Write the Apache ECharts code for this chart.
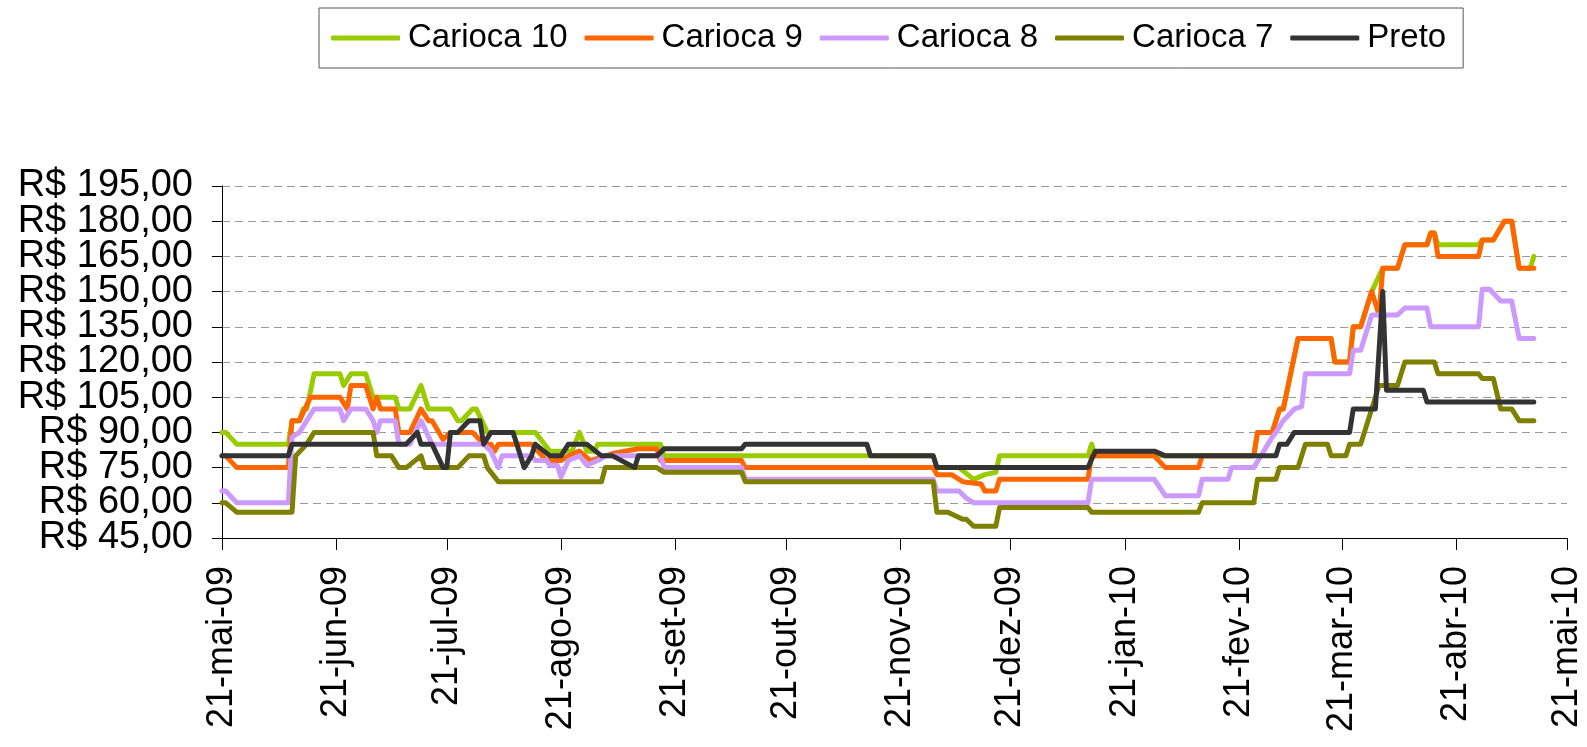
<!DOCTYPE html>
<html>
<head>
<meta charset="utf-8">
<script src="https://cdn.jsdelivr.net/npm/echarts@6/dist/echarts.min.js"></script>
<style>
  html, body { margin: 0; padding: 0; background: #fff; }
  #chart { width: 1587px; height: 747px; }
</style>
</head>
<body>
<div id="chart"></div>
<script>
// x = days since 21/05/2009, y = preço da saca (R$)
const tickDays = [0, 31, 61, 92, 123, 153, 184, 214, 245, 276, 304, 335, 365];
const tickLabels = ["21-mai-09", "21-jun-09", "21-jul-09", "21-ago-09", "21-set-09", "21-out-09",
  "21-nov-09", "21-dez-09", "21-jan-10", "21-fev-10", "21-mar-10", "21-abr-10", "21-mai-10"];
// price ticks, split over two label rows so the large labels are not dropped as overlapping
const priceTicksA = [45, 75, 105, 135, 165, 195];
const priceTicksB = [60, 90, 120, 150, 180];

const carioca10 = [[0, 90], [1, 90], [4, 85], [18, 85], [19, 95], [21, 95], [22, 100], [23, 100], [25, 115],
  [32, 115], [33, 110], [35, 115], [39, 115], [41, 105], [47, 105], [48, 100], [51, 100], [54, 110], [56, 100],
  [62, 100], [64, 95], [65, 95], [68, 100], [69, 100], [72, 90], [85, 90], [89, 82], [95, 82], [97, 90], [99, 82],
  [101, 82], [102, 85], [119, 85], [120, 80], [193, 80], [194, 75], [200, 75], [204, 70], [207, 72], [210, 73],
  [211, 80], [235, 80], [236, 85], [237, 80], [280, 80], [281, 90], [285, 90], [287, 100], [288, 100], [292, 130],
  [301, 130], [302, 120], [306, 120], [307, 135], [309, 135], [312, 150], [315, 160], [319, 160], [321, 170],
  [327, 170], [328, 175], [329, 175], [330, 170], [341, 170], [342, 172], [345, 172], [348, 180], [350, 180],
  [352, 160], [355, 160], [356, 165]];

const carioca9 = [[0, 80], [1, 80], [4, 75], [18, 75], [19, 95], [21, 95], [24, 105], [32, 105], [34, 100],
  [35, 110], [39, 110], [41, 100], [42, 105], [43, 100], [47, 100], [48, 90], [51, 90], [54, 100], [56, 95],
  [57, 95], [60, 87], [62, 90], [68, 90], [71, 85], [73, 85], [74, 82], [75, 85], [84, 85], [88, 78], [92, 78],
  [94, 80], [97, 82], [100, 78], [106, 81], [113, 83], [118, 83], [119, 78], [141, 78], [142, 75], [193, 75],
  [194, 72], [198, 72], [201, 69], [206, 68], [207, 65], [210, 65], [211, 70], [235, 70], [236, 80], [253, 80],
  [256, 75], [265, 75], [266, 80], [280, 80], [281, 90], [285, 90], [287, 100], [288, 100], [292, 130], [301, 130],
  [302, 120], [306, 120], [307, 135], [309, 135], [312, 150], [314, 140], [315, 160], [319, 160], [321, 170],
  [327, 170], [328, 175], [329, 175], [330, 165], [341, 165], [342, 172], [345, 172], [348, 180], [350, 180],
  [352, 160], [356, 160]];

const carioca8 = [[0, 65], [1, 65], [4, 60], [18, 60], [19, 88], [21, 90], [25, 100], [32, 100], [33, 95],
  [35, 100], [39, 100], [41, 95], [42, 90], [43, 95], [47, 95], [48, 85], [51, 85], [54, 95], [57, 85], [71, 85],
  [73, 82], [75, 75], [76, 80], [84, 80], [85, 78], [88, 78], [89, 76], [91, 76], [92, 71], [94, 78], [97, 80],
  [99, 76], [102, 78], [104, 80], [119, 80], [120, 75], [141, 75], [142, 70], [193, 70], [194, 65], [200, 65],
  [202, 62], [204, 60], [235, 60], [236, 70], [253, 70], [256, 63], [265, 63], [266, 70], [273, 70], [274, 75],
  [280, 75], [285, 88], [286, 90], [288, 95], [291, 100], [293, 101], [294, 115], [306, 115], [307, 125],
  [309, 125], [312, 140], [319, 140], [321, 143], [327, 143], [328, 135], [341, 135], [342, 151], [344, 151],
  [347, 146], [350, 146], [352, 130], [356, 130]];

const carioca7 = [[0, 60], [1, 60], [4, 56], [19, 56], [20, 80], [23, 85], [25, 90], [41, 90], [42, 80], [46, 80],
  [48, 75], [50, 75], [54, 80], [55, 75], [64, 75], [67, 80], [71, 80], [72, 75], [75, 69], [103, 69], [104, 75],
  [118, 75], [120, 73], [141, 73], [142, 69], [193, 69], [194, 56], [197, 56], [201, 53], [202, 53], [204, 50],
  [210, 50], [211, 58], [235, 58], [236, 56], [265, 56], [266, 60], [280, 60], [281, 70], [286, 70], [287, 75],
  [292, 75], [294, 85], [300, 85], [301, 80], [305, 80], [306, 85], [309, 85], [314, 110], [319, 110], [321, 120],
  [329, 120], [330, 115], [341, 115], [342, 113], [345, 113], [347, 100], [350, 100], [352, 95], [356, 95]];

const preto = [[0, 80], [18, 80], [19, 85], [50, 85], [53, 90], [54, 85], [57, 85], [60, 75], [61, 75], [62, 90],
  [64, 90], [67, 95], [70, 95], [71, 85], [73, 90], [79, 90], [82, 75], [84, 80], [85, 85], [89, 80], [92, 80],
  [94, 85], [99, 85], [103, 80], [106, 80], [112, 75], [113, 80], [118, 80], [120, 83], [141, 83], [142, 85],
  [175, 85], [176, 80], [193, 80], [194, 75], [235, 75], [237, 82], [253, 82], [256, 80], [286, 80], [287, 85],
  [289, 85], [291, 90], [306, 90], [307, 100], [313, 100], [315, 150], [316, 108], [326, 108], [327, 103],
  [356, 103]];

const FONT = "'Liberation Sans', Arial, sans-serif";
const SERIES = [
  { name: "Carioca 10", data: carioca10, color: "#99cc00" },
  { name: "Carioca 9", data: carioca9, color: "#ff6600" },
  { name: "Carioca 8", data: carioca8, color: "#cc99ff" },
  { name: "Carioca 7", data: carioca7, color: "#808000" },
  { name: "Preto", data: preto, color: "#333333" },
];

function formatReal(value) {
  return "R$ " + value.toFixed(2).replace(".", ",");
}

function priceLabels(values) {
  return {
    customValues: values,
    margin: 29,
    fontFamily: FONT,
    fontSize: 38,
    color: "#000",
    formatter: formatReal,
  };
}

const chart = echarts.init(document.getElementById("chart"));
chart.setOption({
  animation: false,
  backgroundColor: "#fff",
  legend: {
    left: 319,
    top: 8,
    padding: [10, 17, 10, 12],
    borderColor: "#555",
    borderWidth: 1,
    icon: "roundRect",
    itemWidth: 69,
    itemHeight: 5,
    itemGap: 17,
    textStyle: { fontFamily: FONT, fontSize: 33, color: "#000", lineHeight: 40, padding: [0, 0, 0, 3] },
  },
  grid: { left: 222, right: 20, top: 186, bottom: 209, containLabel: false, outerBoundsMode: "none" },
  xAxis: {
    type: "value",
    min: 0,
    max: 365,
    axisLine: { show: true, lineStyle: { color: "#000", width: 1 } },
    axisTick: { show: true, customValues: tickDays, length: 12, lineStyle: { color: "#000" } },
    axisLabel: {
      customValues: tickDays,
      rotate: 90,
      margin: 28,
      fontFamily: FONT,
      fontSize: 36,
      color: "#000",
      formatter: (v) => tickLabels[tickDays.indexOf(Math.round(v))] || "",
    },
    splitLine: { show: false },
  },
  yAxis: [
    {
      type: "value",
      min: 45,
      max: 195,
      interval: 15,
      axisLine: { show: true, lineStyle: { color: "#000", width: 1 } },
      axisTick: { show: true, length: 10, lineStyle: { color: "#000" } },
      axisLabel: priceLabels(priceTicksA),
      splitLine: { show: true, lineStyle: { color: "#999", width: 1, type: [8, 5] } },
    },
    {
      type: "value",
      position: "left",
      min: 45,
      max: 195,
      interval: 15,
      axisLine: { show: false },
      axisTick: { show: false },
      axisLabel: priceLabels(priceTicksB),
      splitLine: { show: false },
    },
  ],
  series: SERIES.map((s) => ({
    name: s.name,
    type: "line",
    data: s.data,
    symbol: "none",
    showSymbol: false,
    itemStyle: { color: s.color },
    lineStyle: { color: s.color, width: 5, cap: "round", join: "round" },
  })),
});
</script>
</body>
</html>
